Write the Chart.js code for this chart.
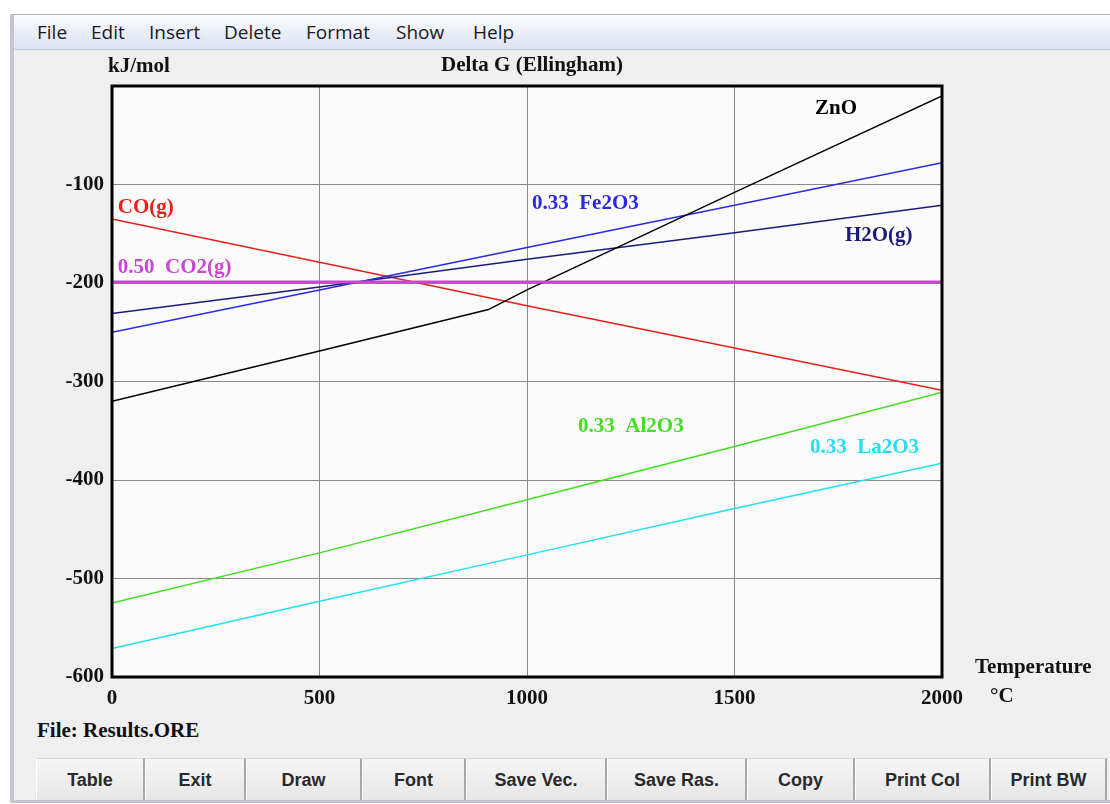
<!DOCTYPE html>
<html>
<head>
<meta charset="utf-8">
<script src="https://cdn.jsdelivr.net/npm/chart.js@4.4.1/dist/chart.umd.min.js"></script>
<style>
  html, body { margin: 0; padding: 0; background: #fff; }
  body { width: 1110px; height: 804px; position: relative; overflow: hidden; font-family: "Open Sans", sans-serif; }
  #frame { position: absolute; left: 10px; top: 14px; width: 1100px; height: 789px; background: #efefef;
           border-left: 4px solid #c9c2d2; border-top: 1px solid #b8b2c2; border-bottom: 3px solid #c9c2d2; box-sizing: border-box; }
  #menu { position: absolute; left: 14px; top: 15px; width: 1096px; height: 34px;
          background: linear-gradient(#fbfcfe, #e8edf6 55%, #dce3f0); border-bottom: 1px solid #c5cad6; }
  .mi { position: absolute; top: 19px; line-height: 26px; font-size: 19px; color: #1a1a1a; }
  .btn { position: absolute; top: 758px; height: 42px; line-height: 42px; text-align: center; box-sizing: border-box;
         background: linear-gradient(#f6f6f6, #e6e6e6); border-left: 1px solid #fff; border-right: 2px solid #a8a8a8;
         border-top: 1px solid #d8d8d8; font-family: "Liberation Sans", Arial, sans-serif; font-weight: bold; font-size: 18px; color: #2a2a2a; }
  #file { position: absolute; left: 37px; top: 718px; font-family: "Liberation Serif", serif; font-weight: bold; font-size: 21px; color: #111; }
  #c { position: absolute; left: 0; top: 0; pointer-events: none; }
</style>
</head>
<body>
<div id="frame"></div>
<div id="menu"></div>
<span class="mi" style="left:37px">File</span>
<span class="mi" style="left:91px">Edit</span>
<span class="mi" style="left:149px">Insert</span>
<span class="mi" style="left:224px">Delete</span>
<span class="mi" style="left:306px">Format</span>
<span class="mi" style="left:396px">Show</span>
<span class="mi" style="left:473px">Help</span>
<div id="file">File: Results.ORE</div>
<div id="buttons"></div>
<canvas id="c" width="1110" height="804"></canvas>
<script>
// temperatures (°C) used for most curves
const temps = [0, 500, 1000, 1500, 2000];
// ZnO has a break near the boiling point of zinc
const tempsZnO = [0, 500, 907, 1000, 1500, 2000];

const dgZnO = [-320, -269, -227, -207, -108, -10];
const dgFe2O3 = [-250, -207, -164, -121, -78];
const dgH2O = [-231, -204, -176, -149, -121];
const dgCO = [-135, -179, -223, -266, -309];
const dgCO2 = [-199, -199, -199, -199, -199];
const dgAl2O3 = [-525, -474, -420, -366, -311];
const dgLa2O3 = [-571, -523, -476, -429, -383];

const xTicks = [0, 500, 1000, 1500, 2000];
const yTicks = [-600, -500, -400, -300, -200, -100, 0];

// labels of the curves, placed in data units
const noms = ['ZnO', '0.33  Fe2O3', 'H2O(g)', 'CO(g)', '0.50  CO2(g)', '0.33  Al2O3', '0.33  La2O3'];
const nomX = [1694, 1012, 1766, 14, 14, 1123, 1682];
const nomY = [-23, -119, -152, -123, -184, -346, -367];

const couleurs = {
  zno: '#000000',
  fe2o3: '#2a2ae0',
  h2o: '#1c1c78',
  co: '#e8201c',
  co2: '#c846d2',
  al2o3: '#44dd22',
  la2o3: '#22e0f0'
};
const nomCouleurs = [couleurs.zno, couleurs.fe2o3, couleurs.h2o, couleurs.co, couleurs.co2, couleurs.al2o3, couleurs.la2o3];

const boutons = ['Table', 'Exit', 'Draw', 'Font', 'Save Vec.', 'Save Ras.', 'Copy', 'Print Col', 'Print BW'];
const bordsBoutons = [36, 145, 246, 362, 466, 607, 747, 855, 991, 1107];

// window buttons
const zone = document.getElementById('buttons');
boutons.forEach((b, i) => {
  let d = document.createElement('div');
  d.className = 'btn';
  d.style.left = bordsBoutons[i] + 'px';
  d.style.width = (bordsBoutons[i + 1] - bordsBoutons[i]) + 'px';
  d.textContent = b;
  zone.appendChild(d);
});

function serie(xs, ys) {
  return xs.map((x, i) => ({ x: x, y: ys[i] }));
}

const serif = { family: '"Liberation Serif", "Times New Roman", serif', size: 21, weight: 'bold' };

const cadre = {
  id: 'cadre',
  beforeDraw(chart) {
    const { ctx, chartArea: a } = chart;
    ctx.save();
    ctx.fillStyle = '#fbfbfb';
    ctx.fillRect(a.left, a.top, a.right - a.left, a.bottom - a.top);
    ctx.restore();
  },
  afterDatasetsDraw(chart) {
    const { ctx, chartArea: a, scales } = chart;
    ctx.save();
    ctx.strokeStyle = '#000';
    ctx.lineWidth = 3;
    ctx.strokeRect(a.left, a.top, a.right - a.left, a.bottom - a.top);

    ctx.font = 'bold 21px "Liberation Serif", "Times New Roman", serif';
    ctx.textBaseline = 'middle';
    ctx.textAlign = 'left';
    noms.forEach((n, i) => {
      ctx.fillStyle = nomCouleurs[i];
      ctx.fillText(n, scales.x.getPixelForValue(nomX[i]), scales.y.getPixelForValue(nomY[i]));
    });

    ctx.fillStyle = '#111';
    ctx.fillText('kJ/mol', a.left - 4, a.top - 19);
    ctx.fillText('Temperature', a.right + 33, a.bottom - 9);
    ctx.fillText('°C', a.right + 48, a.bottom + 20);
    ctx.textAlign = 'center';
    ctx.fillText('Delta G (Ellingham)', (a.left + a.right) / 2 + 5, a.top - 20);
    ctx.restore();
  }
};

function ligne(data, couleur, epaisseur) {
  return {
    data: data,
    borderColor: couleur,
    borderWidth: epaisseur,
    pointRadius: 0,
    tension: 0,
    fill: false
  };
}

let data = {
  datasets: [
    ligne(serie(temps, dgCO2), couleurs.co2, 3),
    ligne(serie(tempsZnO, dgZnO), couleurs.zno, 1.5),
    ligne(serie(temps, dgFe2O3), couleurs.fe2o3, 1.5),
    ligne(serie(temps, dgH2O), couleurs.h2o, 1.5),
    ligne(serie(temps, dgCO), couleurs.co, 1.5),
    ligne(serie(temps, dgAl2O3), couleurs.al2o3, 1.5),
    ligne(serie(temps, dgLa2O3), couleurs.la2o3, 1.5)
  ]
};

let options = {
  responsive: false,
  animation: false,
  devicePixelRatio: 1,
  layout: { padding: { left: 42, right: 168, top: 86, bottom: 97 } },
  scales: {
    x: {
      type: 'linear', min: 0, max: 2000,
      afterFit: (axis) => { axis.height = 30; },
      afterBuildTicks: (axis) => { axis.ticks = xTicks.map(v => ({ value: v })); },
      grid: { color: '#8a8a8a', lineWidth: 1, drawTicks: false },
      border: { display: false },
      ticks: { padding: 9, color: '#111', font: serif, maxRotation: 0, callback: (v) => String(v) }
    },
    y: {
      type: 'linear', min: -600, max: 0,
      afterFit: (axis) => { axis.width = 70; },
      afterBuildTicks: (axis) => { axis.ticks = yTicks.map(v => ({ value: v })); },
      grid: { color: '#8a8a8a', lineWidth: 1, drawTicks: false },
      border: { display: false },
      ticks: { padding: 8, color: '#111', font: serif, callback: (v) => v === 0 ? '' : String(v) }
    }
  },
  plugins: {
    legend: { display: false },
    tooltip: { enabled: false },
    title: { display: false }
  }
};

new Chart(document.getElementById('c').getContext('2d'), { type: 'line', data: data, options: options, plugins: [cadre] });
</script>
</body>
</html>
